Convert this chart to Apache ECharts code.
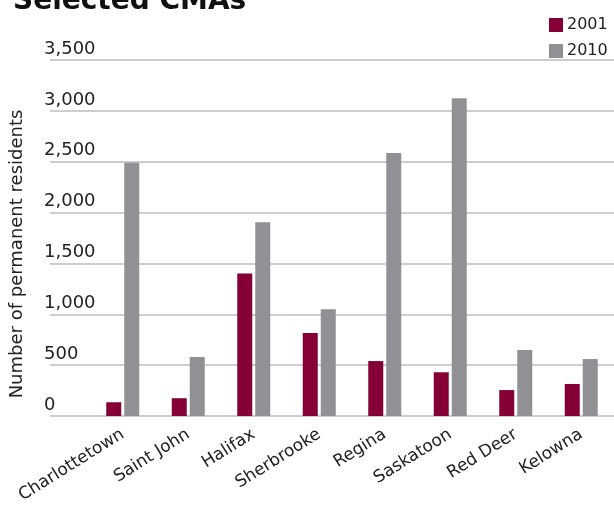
<!DOCTYPE html>
<html><head><meta charset="utf-8">
<script src="https://cdn.jsdelivr.net/npm/echarts@6/dist/echarts.min.js"></script>
<style>html,body{margin:0;padding:0;background:#fff}#c{width:614px;height:508px}</style>
</head><body><div id="c"></div>
<script>
const categories = ['Charlottetown','Saint John','Halifax','Sherbrooke','Regina','Saskatoon','Red Deer','Kelowna'];
const values2001 = [135, 175, 1400, 815, 540, 430, 255, 315];
const values2010 = [2490, 580, 1905, 1050, 2585, 3125, 650, 560];
const yTicks = {min: 0, max: 3500, interval: 500};
const FONT = 'DejaVu Sans';
const chart = echarts.init(document.getElementById('c'), null, {renderer: 'canvas'});
chart.setOption({
  animation: false,
  backgroundColor: '#ffffff',
  title: {text: 'Selected CMAs', left: 8, top: -17,
    textStyle: {fontFamily: FONT, fontWeight: 'bold', fontSize: 28, color: '#111'}},
  legend: {orient: 'vertical', left: 544, top: 12, itemWidth: 14, itemHeight: 14, itemGap: 10,
    icon: 'rect', textStyle: {fontFamily: FONT, fontSize: 16, color: '#222', padding: [0,0,0,-1]},
    data: ['2001','2010']},
  grid: [
    {left: 42, right: 0, top: 60, bottom: 92},
    {left: 90, right: -12, top: 60, bottom: 92}
  ],
  xAxis: [
    {type: 'category', gridIndex: 0, data: categories, show: false},
    {type: 'category', gridIndex: 1, data: categories,
     axisLine: {show: false}, axisTick: {show: false},
     axisLabel: {rotate: 32, margin: 17, fontFamily: FONT, fontSize: 17, color: '#222'}}
  ],
  yAxis: [
    {type: 'value', gridIndex: 0, min: yTicks.min, max: yTicks.max, interval: yTicks.interval,
     name: 'Number of permanent residents', nameLocation: 'middle', nameGap: 24, nameRotate: 90,
     nameTextStyle: {fontFamily: FONT, fontSize: 18, color: '#222', padding: [0, 32, 0, 0]},
     axisLine: {show: false}, axisTick: {show: false},
     axisLabel: {inside: true, margin: -6, align: 'left', verticalAlign: 'bottom', padding: [0,0,2,0],
       fontFamily: FONT, fontSize: 18, color: '#222',
       formatter: v => v.toLocaleString('en-US')},
     splitLine: {show: true, lineStyle: {color: '#bdbcc0', width: 1.5}}},
    {type: 'value', gridIndex: 1, min: yTicks.min, max: yTicks.max, interval: yTicks.interval, show: false,
     splitLine: {show: false}}
  ],
  series: [
    {name: '2001', type: 'bar', xAxisIndex: 1, yAxisIndex: 1, data: values2001,
     barWidth: 15, barGap: '20%', itemStyle: {color: '#850036'}},
    {name: '2010', type: 'bar', xAxisIndex: 1, yAxisIndex: 1, data: values2010,
     barWidth: 15, barGap: '20%', itemStyle: {color: '#919094'}}
  ]
});
</script></body></html>
